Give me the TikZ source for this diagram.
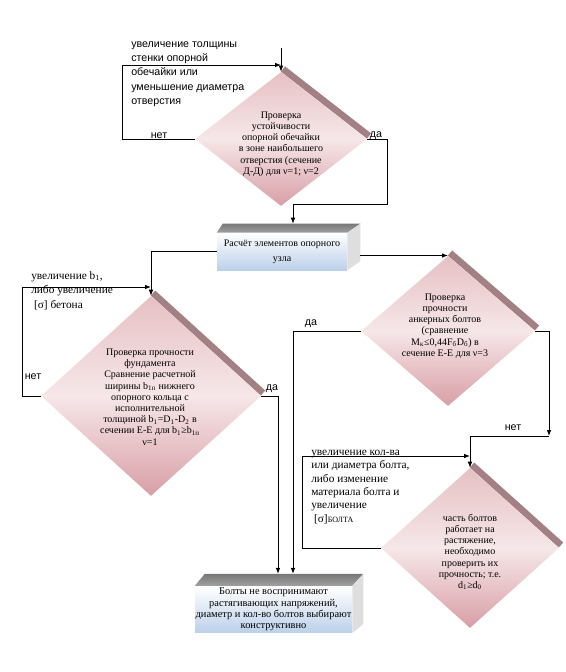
\documentclass[tikz,border=0pt]{standalone}
\usepackage{fontspec}
\setmainfont{Liberation Serif}
\setsansfont{Liberation Sans}
\usepackage{tikz}
\usetikzlibrary{arrows.meta,shapes.geometric,calc}

\definecolor{rosetop}{RGB}{230,192,196}
\definecolor{rosemid}{RGB}{246,231,232}
\definecolor{rosebot}{RGB}{216,158,166}
\definecolor{bevelrose}{RGB}{163,128,131}
\definecolor{boxblue}{RGB}{188,208,234}
\definecolor{lidgray}{RGB}{120,120,120}
\definecolor{lidlight}{RGB}{160,160,160}
\definecolor{sidegray}{RGB}{222,222,222}

\begin{document}
\begin{tikzpicture}[x=0.75pt, y=-0.75pt, check/.style={diamond, inner sep=0pt, top color=rosetop, bottom color=rosebot, middle color=rosemid}, checktext/.style={align=center, inner sep=0pt, font=\rmfamily\fontsize{7.5}{8.4}\selectfont}, bevelband/.style={draw=bevelrose, line width=5pt}, block/.style={rectangle, inner sep=0pt, align=center, top color=white, bottom color=boxblue}, lbl/.style={inner sep=0pt, font=\sffamily\fontsize{8}{10}\selectfont}, note/.style={inner sep=0pt, align=left, anchor=north west}, arrow/.style={-{Latex[length=4.5pt,width=3.5pt]}, line width=0.75pt}]
\useasboundingbox (0,0) rectangle (565,672);
% ромбы проверок
\draw[bevelband] ([shift={(2,-3)}]281,72) -- ([shift={(2,-3)}]367,139);
\node[check, minimum width=129pt, minimum height=100.5pt] (d1) at (281,139) {};
\draw[bevelband] ([shift={(2,-3)}]151,296) -- ([shift={(2,-3)}]261,396);
\node[check, minimum width=165pt, minimum height=150pt] (d2) at (151,396) {};
\draw[bevelband] ([shift={(2,-3)}]448,256) -- ([shift={(2,-3)}]535,331);
\node[check, minimum width=130.5pt, minimum height=112.5pt] (d3) at (448,331) {};
\draw[bevelband] ([shift={(2,-3)}]470,468) -- ([shift={(2,-3)}]559,548);
\node[check, minimum width=133.5pt, minimum height=120pt] (d4) at (470,548) {};
\node[checktext] (t1) at (281,144) {Проверка\\устойчивости\\опорной обечайки\\в зоне наибольшего\\отверстия (сечение\\Д-Д) для ν=1; ν=2};
\node[checktext] (t2) at (150,397) {Проверка прочности\\фундамента\\Сравнение расчетной\\ширины b\textsubscript{1п} нижнего\\опорного кольца с\\исполнительной\\толщиной b\textsubscript{1}=D\textsubscript{1}-D\textsubscript{2} в\\сечении Е-Е для  b\textsubscript{1}≥b\textsubscript{1п}\\ν=1};
\node[checktext] (t3) at (445,326) {Проверка\\прочности\\анкерных болтов\\(сравнение\\M\textsubscript{к}≤0,44F\textsubscript{б}D\textsubscript{б}) в\\сечение Е-Е для ν=3};
\node[checktext] (t4) at (470,552) {часть болтов\\работает на\\растяжение,\\необходимо\\проверить их\\прочность; т.е.\\d\textsubscript{1}≥d\textsubscript{0}};
% блоки
\node[block, minimum width=97.5pt, minimum height=27.75pt, font=\rmfamily\fontsize{7.5}{11}\selectfont] (b1) at (282,251.5) {Расчёт элементов опорного\\узла};
\shade[top color=lidgray, bottom color=lidlight] (b1.north west) -- ++(6,-9) -- ($(b1.north east)+(13,-9)$) -- (b1.north east) -- cycle;
\fill[sidegray] (b1.north east) -- ++(13,-9) -- ($(b1.south east)+(13,-9)$) -- (b1.south east) -- cycle;
\node[block, minimum width=117.75pt, minimum height=35pt, font=\rmfamily\fontsize{7.8}{8.5}\selectfont] (b2) at (273.5,609.5) {Болты не воспринимают\\растягивающих напряжений,\\диаметр и кол-во болтов выбирают\\конструктивно};
\shade[top color=lidgray, bottom color=lidlight] (b2.north west) -- ++(10,-12) -- ($(b2.north east)+(11,-12)$) -- (b2.north east) -- cycle;
\fill[sidegray] (b2.north east) -- ++(11,-12) -- ($(b2.south east)+(11,-9)$) -- (b2.south east) -- cycle;
% пояснения
\node[note, font=\sffamily\fontsize{8}{10.8}\selectfont] (n1) at (131,41) {увеличение толщины\\стенки опорной\\обечайки или\\уменьшение диаметра\\отверстия};
\node[note, font=\rmfamily\fontsize{8.5}{10.9}\selectfont] (n2) at (31,271) {увеличение b\textsubscript{1},\\либо увеличение\\{ [σ] бетона}};
\node[note, font=\rmfamily\fontsize{8.5}{10}\selectfont] (n3) at (311,450) {увеличение кол-ва\\или диаметра болта,\\либо  изменение\\материала болта и\\увеличение\\{ [σ]{\fontsize{6}{6}\selectfont БОЛТА}}};
\node[lbl] (no1) at (159,136) {нет};
\node[lbl] (yes1) at (376,136) {да};
\node[lbl] (no2) at (33,377) {нет};
\node[lbl] (yes2) at (272,389) {да};
\node[lbl] (yes3) at (311,324) {да};
\node[lbl] (no3) at (513,428) {нет};
% точки
\coordinate (in1) at (281,48);
\coordinate (j1) at (281,65);
\coordinate (j2) at (151,287);
\coordinate (k) at (549,436);
\coordinate (j4) at (470,456);
\coordinate (b1t) at ($(b1.north)+(11,-9)$);
\coordinate (b1r) at ($(b1.east)+(13,4)$);
\coordinate (b2a) at ($(b2.north)+(4.5,-12)$);
\coordinate (b2b) at ($(b2.north)+(19.5,-12)$);
% связи
\draw[arrow] (in1) -- (d1.north);
\draw[arrow] (d1.west) -- ++(-72,0) |- (j1);
\draw[arrow] (d1.east) -- ++(20,0) |- ($(b1t)+(0,-19)$) -- (b1t);
\draw[arrow] (b1.west) -| (d2.north);
\draw[arrow] (d2.west) -- ++(-18,0) |- (j2);
\draw[arrow] (b1r) -- (b1r -| d3.north);
\draw[arrow] (d2.east) -| (b2a);
\draw[arrow] (d3.west) -| (b2b);
\draw[arrow] (d3.east) -| (k);
\draw[arrow] (k) -| (d4.north);
\draw[arrow] (d4.west) -- ++(-78,0) |- (j4);
\end{tikzpicture}
\end{document}
